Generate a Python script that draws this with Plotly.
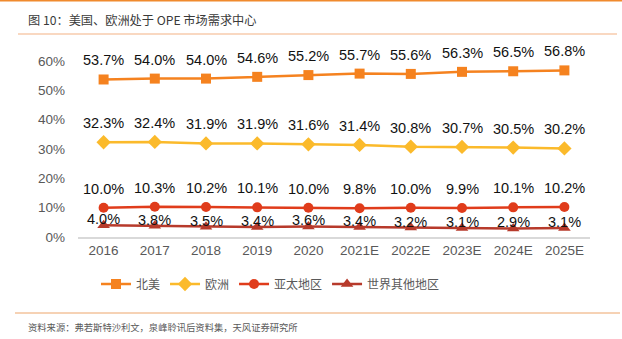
import plotly.graph_objects as go

categories = ["2016", "2017", "2018", "2019", "2020", "2021E", "2022E", "2023E", "2024E", "2025E"]
north_america = [53.7, 54.0, 54.0, 54.6, 55.2, 55.7, 55.6, 56.3, 56.5, 56.8]
europe = [32.3, 32.4, 31.9, 31.9, 31.6, 31.4, 30.8, 30.7, 30.5, 30.2]
asia_pacific = [10.0, 10.3, 10.2, 10.1, 10.0, 9.8, 10.0, 9.9, 10.1, 10.2]
rest_of_world = [4.0, 3.8, 3.5, 3.4, 3.6, 3.4, 3.2, 3.1, 2.9, 3.1]
series_names = ["北美", "欧洲", "亚太地区", "世界其他地区"]
y_ticks = [0, 10, 20, 30, 40, 50, 60]
y_tick_labels = ["0%", "10%", "20%", "30%", "40%", "50%", "60%"]

W, H = 622, 339
L, R, T, B = 78, 590, 61, 237

def px(x):
    return (x - L) / (R - L)

def py(y):
    return (B - y) / (B - T)

colors = ["#F5821F", "#FBBA2B", "#E03C1B", "#B73A2B"]
symbols = ["square", "diamond", "circle", "triangle-up"]
sizes = [10, 11, 10, 11]
label_shift = [19, 19, 19, 6]
data = [north_america, europe, asia_pacific, rest_of_world]

fig = go.Figure()
for name, vals, c, s, sz in zip(series_names, data, colors, symbols, sizes):
    fig.add_trace(go.Scatter(
        x=categories, y=vals, name=name, mode="lines+markers",
        line=dict(color=c, width=2.5),
        marker=dict(symbol=s, size=sz, color=c),
        cliponaxis=False,
    ))

for vals, shift in zip(data, label_shift):
    for i, v in enumerate(vals):
        fig.add_annotation(x=i, y=v, text=f"{v:.1f}%", showarrow=False, yshift=shift,
                           xanchor="center", yanchor="middle",
                           font=dict(family="Liberation Sans, Arial", size=14.5, color="#111111"))

fig.update_layout(
    width=W, height=H,
    margin=dict(l=L, r=W - R, t=T, b=H - B),
    paper_bgcolor="white", plot_bgcolor="white",
    showlegend=True,
    legend=dict(orientation="h", x=px(96), y=py(284), xanchor="left", yanchor="middle",
                font=dict(family="Noto Sans CJK SC", size=12, color="#595959"),
                itemwidth=30, tracegroupgap=0, bgcolor="rgba(0,0,0,0)"),
    xaxis=dict(type="category", categoryorder="array", categoryarray=categories,
               range=[-0.5, len(categories) - 0.5],
               showgrid=False, showline=True, linecolor="#d9d9d9", linewidth=1.5,
               ticks="", tickfont=dict(family="Liberation Sans, Arial", size=13.5, color="#595959"),
               zeroline=False),
    yaxis=dict(range=[0, 60], tickmode="array", tickvals=y_ticks, ticktext=y_tick_labels,
               showgrid=False, showline=False, zeroline=False, ticks="", ticklabelstandoff=12,
               tickfont=dict(family="Liberation Sans, Arial", size=13.5, color="#595959")),
    font=dict(family="Noto Sans CJK SC"),
)

shapes = [
    dict(type="line", xref="paper", yref="paper", x0=px(0), x1=px(622), y0=py(0.7), y1=py(0.7),
         line=dict(color="#F08A2D", width=1.5)),
    dict(type="line", xref="paper", yref="paper", x0=px(18), x1=px(617), y0=py(34), y1=py(34),
         line=dict(color="#F4B183", width=1.2)),
    dict(type="line", xref="paper", yref="paper", x0=px(15), x1=px(620), y0=py(313), y1=py(313),
         line=dict(color="#EDA56A", width=1)),
]
fig.update_layout(shapes=shapes)

fig.add_annotation(text="图 10：美国、欧洲处于 OPE 市场需求中心", xref="paper", yref="paper",
                   x=px(26), y=py(20), xanchor="left", yanchor="middle", showarrow=False,
                   font=dict(family="Noto Sans CJK SC", size=12.2, color="#3a3a3a"))
fig.add_annotation(text="资料来源：弗若斯特沙利文，泉峰聆讯后资料集，天风证券研究所", xref="paper", yref="paper",
                   x=px(26), y=py(327), xanchor="left", yanchor="middle", showarrow=False,
                   font=dict(family="Noto Sans CJK SC", size=9.3, color="#595959"))

fig.write_html("out.html")
